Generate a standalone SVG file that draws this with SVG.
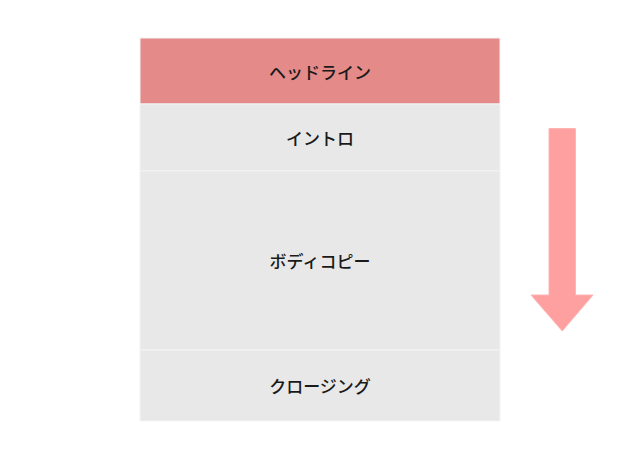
<svg xmlns="http://www.w3.org/2000/svg" width="640" height="460" viewBox="0 0 640 460">
<style>
.sec{fill:#e8e8e8;stroke:#f4f4f4;stroke-width:1}
.head{fill:#e48a88;stroke:#f4f4f4;stroke-width:1}
.lbl{font-family:"Noto Sans CJK JP","Noto Sans",sans-serif;font-size:17px;font-weight:500;fill:#1a1a1a;text-anchor:middle;dominant-baseline:central}
.arrow{fill:#ffa0a0;stroke:#ffb4b4;stroke-width:1}
</style>
<rect width="640" height="460" fill="#ffffff"/>
<g id="headline"><rect class="head" x="140" y="38" width="360" height="66"/><text class="lbl" x="320" y="71">ヘッドライン</text></g>
<g id="intro"><rect class="sec" x="140" y="104" width="360" height="67"/><text class="lbl" x="320" y="137">イントロ</text></g>
<g id="body"><rect class="sec" x="140" y="171" width="360" height="179"/><text class="lbl" x="320" y="260">ボディコピー</text></g>
<g id="closing"><rect class="sec" x="140" y="350" width="360" height="71"/><text class="lbl" x="320" y="385">クロージング</text></g>
<g id="connectors"><polygon class="arrow" points="549,128.5 575.5,128.5 575.5,295 593,295 562.25,331 531,295 549,295"/></g>
</svg>
